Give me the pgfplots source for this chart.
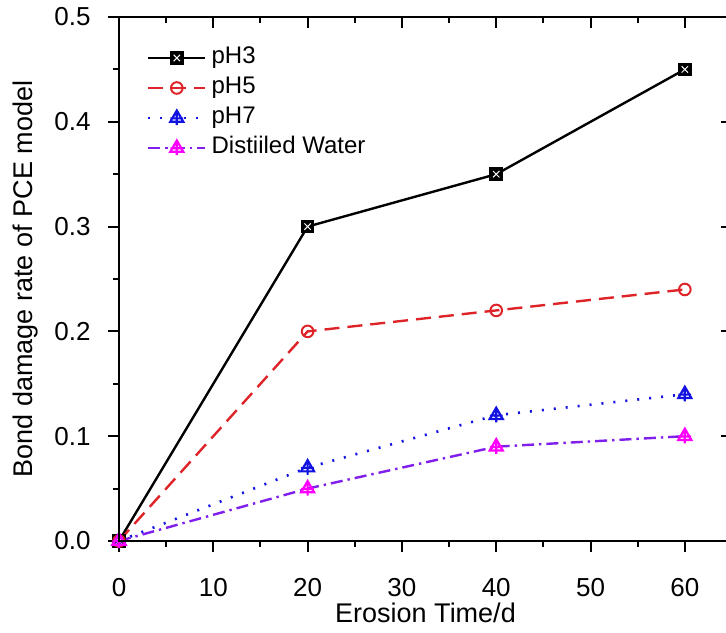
\documentclass[border=0pt]{standalone}
\usepackage{fontspec}
\setmainfont{Liberation Sans}
\usepackage{pgfplots}
\pgfplotsset{compat=1.18}

\definecolor{cred}{RGB}{222,36,40}
\definecolor{cblue}{RGB}{18,18,225}
\definecolor{cmag}{RGB}{255,0,255}
\definecolor{cpur}{RGB}{128,30,235}

\pgfdeclareplotmark{boxx}{%
  \pgfpathrectangle{\pgfqpoint{-\pgfplotmarksize}{-\pgfplotmarksize}}{\pgfqpoint{2\pgfplotmarksize}{2\pgfplotmarksize}}%
  \pgfusepathqfillstroke
  \begin{pgfscope}%
    \pgfsetstrokecolor{white}%
    \pgfsetlinewidth{0.5pt}%
    \pgfpathmoveto{\pgfqpoint{-.55\pgfplotmarksize}{-.55\pgfplotmarksize}}%
    \pgfpathlineto{\pgfqpoint{.55\pgfplotmarksize}{.55\pgfplotmarksize}}%
    \pgfpathmoveto{\pgfqpoint{-.55\pgfplotmarksize}{.55\pgfplotmarksize}}%
    \pgfpathlineto{\pgfqpoint{.55\pgfplotmarksize}{-.55\pgfplotmarksize}}%
    \pgfusepathqstroke
  \end{pgfscope}%
}
\pgfdeclareplotmark{tplus}{%
  \pgfpathmoveto{\pgfqpoint{0pt}{\pgfplotmarksize}}%
  \pgfpathlineto{\pgfqpoint{-.866\pgfplotmarksize}{-.5\pgfplotmarksize}}%
  \pgfpathlineto{\pgfqpoint{.866\pgfplotmarksize}{-.5\pgfplotmarksize}}%
  \pgfpathclose
  \pgfpathmoveto{\pgfqpoint{0pt}{\pgfplotmarksize}}%
  \pgfpathlineto{\pgfqpoint{0pt}{-.95\pgfplotmarksize}}%
  \pgfpathmoveto{\pgfqpoint{-.85\pgfplotmarksize}{-.05\pgfplotmarksize}}%
  \pgfpathlineto{\pgfqpoint{.85\pgfplotmarksize}{-.05\pgfplotmarksize}}%
  \pgfusepathqstroke
}

\pgfplotsset{
  commonaxis/.style={
    scale only axis, width=306.5pt, height=262pt,
    xmin=0, xmax=65, ymin=0, ymax=0.5,
    xtick={0,10,20,30,40,50,60},
    ytick={0,0.1,0.2,0.3,0.4,0.5},
    minor x tick num=1, minor y tick num=1,
    major tick length=5.5pt, minor tick length=3pt,
    axis line style={line width=1pt},
    every tick/.style={line width=1pt, black},
  }
}

\begin{document}
\begin{tikzpicture}
\begin{axis}[commonaxis, name=main,
  xtick pos=left, ytick pos=left, tick align=outside,
  /pgf/number format/assume math mode=true,
  ticklabel style={font=\fontsize{13}{15}\selectfont, inner sep=0pt},
  xticklabel style={anchor=north, yshift=-13pt},
  yticklabel style={anchor=east, xshift=-8.5pt, /pgf/number format/.cd, fixed, fixed zerofill, precision=1},
  xlabel={Erosion Time/d},
  ylabel={Bond damage rate of PCE model},
  label style={font=\fontsize{13.5}{16}\selectfont, inner sep=0pt},
  xlabel style={at={(axis description cs:0.5,-0.1565)}, anchor=base},
  ylabel style={at={(axis description cs:-0.1403,0.5)}, anchor=base},
  legend cell align=left,
  legend image code/.code={\draw[mark repeat=2,mark phase=2,#1] plot coordinates {(0pt,0pt) (14.25pt,0pt) (28.5pt,0pt)};},
  legend style={at={(axis description cs:0.0457,0.9504)}, anchor=north west,
    draw=none, fill=none, inner sep=0pt, outer sep=0pt,
    font=\fontsize{12}{14}\selectfont, row sep=0pt, column sep=1pt,
    nodes={inner sep=1.5pt, text height=9pt, text depth=3pt}},
]
\addplot[black, line width=1.2pt, mark=boxx, mark size=2.9pt, mark options={solid, fill=black, draw=black, line width=1pt}]
  coordinates {(0,0) (20,0.3) (40,0.35) (60,0.45)};
\addlegendentry{pH3}
\addplot[cred, line width=1.2pt, dash pattern=on 7.5pt off 4pt, mark=o, mark size=2.9pt, mark options={solid, line width=1pt}]
  coordinates {(0,0) (20,0.2) (40,0.22) (60,0.24)};
\addlegendentry{pH5}
\addplot[cblue, line width=1.3pt, dash pattern=on 1pt off 5pt, mark=tplus, mark size=3.75pt, mark options={solid, line width=1.1pt}]
  coordinates {(0,0) (20,0.07) (40,0.12) (60,0.14)};
\addlegendentry{pH7}
\addplot[cpur, line width=1.2pt, dash pattern=on 6pt off 2.5pt on 1.2pt off 2.5pt, mark=tplus, mark size=3.75pt, mark options={solid, draw=cmag, line width=1.1pt}]
  coordinates {(0,0) (20,0.05) (40,0.09) (60,0.10)};
\addlegendentry{Distiiled Water}
\end{axis}
\begin{axis}[commonaxis,
  xtick pos=right, ytick pos=right, tick align=inside,
  xticklabels={}, yticklabels={},
]
\end{axis}
\pgfresetboundingbox
\useasboundingbox ([xshift=-59.5pt,yshift=-46pt]main.south west) rectangle ([xshift=-3pt,yshift=8.5pt]main.north east);
\end{tikzpicture}
\end{document}
